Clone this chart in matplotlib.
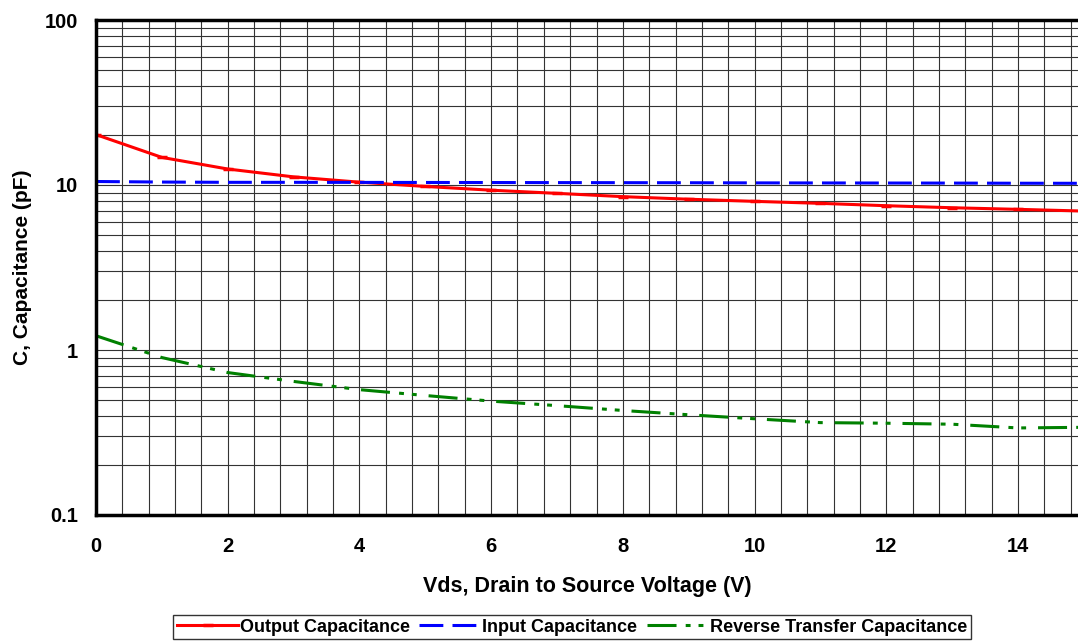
import numpy as np
import matplotlib.pyplot as plt

vds = [0, 1, 2, 3, 4, 5, 6, 7, 8, 9, 10, 11, 12, 13, 14, 15]
c_out = [20.2, 14.7, 12.5, 11.2, 10.4, 9.8, 9.3, 8.9, 8.5, 8.2, 7.96, 7.74, 7.49, 7.28, 7.12, 6.95]
c_in = [10.5, 10.42, 10.38, 10.38, 10.37, 10.36, 10.35, 10.34, 10.33, 10.32, 10.3, 10.29, 10.28, 10.27, 10.25, 10.24]
c_rss = [1.22, 0.90, 0.73, 0.645, 0.575, 0.53, 0.49, 0.46, 0.43, 0.405, 0.383, 0.363, 0.36, 0.355, 0.337, 0.34]

fnt = ['Liberation Sans', 'DejaVu Sans']
plt.rcParams['font.family'] = fnt
plt.rcParams['font.weight'] = 'bold'

fig = plt.figure(figsize=(10.78, 6.41), dpi=100)
ax = fig.add_axes([96/1078, 1-515/641, 1-96/1078, (515-20)/641])

ax.plot(vds, c_out, color='red', lw=2.2, marker='_', ms=7, mew=2.5, label='Output Capacitance')
ax.plot(vds, c_in, color='blue', lw=2.2, dashes=(7.8, 3), label='Input Capacitance')
ax.plot(vds, c_rss, color='green', lw=2.2, dashes=(9.5, 3, 1.6, 2.6, 1.6, 3.9), label='Reverse Transfer Capacitance')

ax.set_yscale('log')
ax.set_ylim(0.1, 100)
ax.set_xlim(0, 982/(922/14))
ax.set_xticks(np.arange(0, 15, 2))
ax.set_xticks(np.arange(0, 15, 0.4), minor=True)
ax.set_yticks([0.1, 1, 10, 100])
ax.set_yticklabels(['0.1', '1', '10', '100'])
ax.grid(True, which='both', color='0.2', lw=0.8)
ax.tick_params(which='both', length=0, labelsize=14.5)
ax.tick_params(axis='x', pad=16)
ax.tick_params(axis='y', pad=13)
for lab in ax.get_xticklabels() + ax.get_yticklabels():
    lab.set_fontweight('bold')

for s in ['left', 'bottom', 'top']:
    ax.spines[s].set_linewidth(2.5)
ax.spines['right'].set_visible(False)

ax.set_xlabel('Vds, Drain to Source Voltage (V)', fontsize=15.5, fontweight='bold', labelpad=14)
ax.set_ylabel('C, Capacitance (pF)', fontsize=15, fontweight='bold', labelpad=9)

leg = fig.legend(loc='lower center', bbox_to_anchor=(572/1078, 0.0), ncol=3, frameon=True,
                 fancybox=False, edgecolor='black', fontsize=13, handlelength=3.4,
                 handletextpad=0.1, columnspacing=0.5, borderpad=0.2, borderaxespad=0.1)
leg.get_frame().set_linewidth(1.0)
for t in leg.get_texts():
    t.set_fontweight('bold')

fig.savefig('out.png', dpi=100)
